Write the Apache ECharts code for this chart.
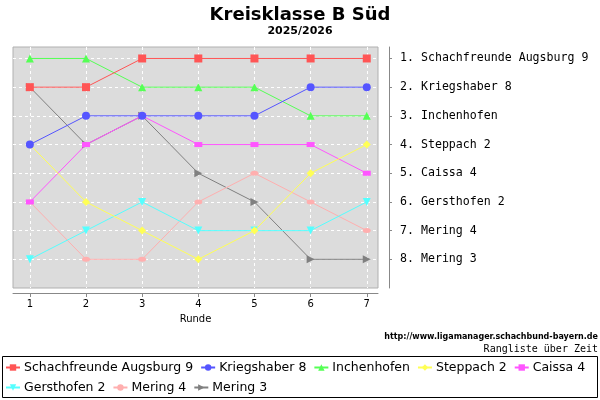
<!DOCTYPE html>
<html>
<head>
<meta charset="utf-8">
<script src="https://cdn.jsdelivr.net/npm/echarts@6/dist/echarts.min.js"></script>
<style>
  html, body { margin: 0; padding: 0; background: #fff; }
  #chart-container { width: 600px; height: 400px; }
</style>
</head>
<body>
<div id="chart-container"></div>
<script>
var dom = document.getElementById('chart-container');
var myChart = echarts.init(dom, null, { renderer: 'canvas' });

// rounds and team ranks per round
var rounds = [1, 2, 3, 4, 5, 6, 7];
var ranks = [1, 2, 3, 4, 5, 6, 7, 8];
var teams = ['Schachfreunde Augsburg 9', 'Kriegshaber 8', 'Inchenhofen', 'Steppach 2',
             'Caissa 4', 'Gersthofen 2', 'Mering 4', 'Mering 3'];
var augsburg9   = [2, 2, 1, 1, 1, 1, 1];
var kriegshaber8 = [4, 3, 3, 3, 3, 2, 2];
var inchenhofen = [1, 1, 2, 2, 2, 3, 3];
var steppach2   = [4, 6, 7, 8, 7, 5, 4];
var caissa4     = [6, 4, 3, 4, 4, 4, 5];
var gersthofen2 = [8, 7, 6, 7, 7, 7, 6];
var mering4     = [6, 8, 8, 6, 5, 6, 7];
var mering3     = [2, 4, 3, 5, 6, 8, 8];
var allRanks = [augsburg9, kriegshaber8, inchenhofen, steppach2, caissa4, gersthofen2, mering4, mering3];

var colors = ['#ff5555', '#5555ff', '#55ff55', '#ffff55', '#ff55ff', '#55ffff', '#ffafaf', '#808080'];
var symbols = ['rect', 'circle', 'triangle', 'diamond', 'rect', 'triangle', 'circle', 'triangle'];
var symSizes = [8, 8, 8, 8, [8, 5], 8, [8, 5], 8];
var symRot = [0, 0, 0, 0, 0, 180, 0, -90];

// first team drawn on top, like the original
var series = teams.map(function (name, i) {
    return {
        name: name,
        type: 'line',
        z: 2 + teams.length - i,
        data: rounds.map(function (r, j) { return [r, allRanks[i][j]]; }),
        symbol: symbols[i],
        symbolSize: symSizes[i],
        symbolRotate: symRot[i],
        showAllSymbol: true,
        color: colors[i],
        lineStyle: { width: 1 },
        itemStyle: { color: colors[i] },
        animation: false
    };
});

var option = {
    backgroundColor: '#ffffff',
    textStyle: { fontFamily: 'DejaVu Sans' },
    title: {
        text: 'Kreisklasse B Süd',
        subtext: '2025/2026',
        left: 'center',
        top: 1,
        itemGap: 2,
        textStyle: { fontSize: 18, fontWeight: 'bold', color: '#000', fontFamily: 'DejaVu Sans' },
        subtextStyle: { fontSize: 11, fontWeight: 'bold', color: '#000', fontFamily: 'DejaVu Sans' }
    },
    grid: {
        left: 13, right: 222, top: 47, bottom: 112,
        show: true,
        backgroundColor: '#dcdcdc',
        borderColor: '#b0b0b0',
        borderWidth: 1
    },
    xAxis: {
        type: 'value',
        min: 0.7,
        max: 7.2,
        offset: 5,
        name: 'Runde',
        nameLocation: 'middle',
        nameGap: 21,
        nameTextStyle: { fontSize: 10, color: '#000' },
        axisLine: { show: true, lineStyle: { color: '#888' } },
        axisTick: { show: true, length: 4, customValues: rounds, lineStyle: { color: '#888' } },
        axisLabel: { customValues: rounds, fontSize: 10, color: '#000', margin: 6 },
        splitLine: { show: true, lineStyle: { color: '#ffffff', type: [3, 3], width: 1 } }
    },
    yAxis: {
        type: 'value',
        inverse: true,
        min: 0.6,
        max: 9,
        position: 'right',
        offset: 11,
        axisLine: { show: true, lineStyle: { color: '#888' } },
        axisTick: { show: true, length: 3, customValues: ranks, lineStyle: { color: '#888' } },
        axisLabel: {
            customValues: ranks,
            margin: 11,
            fontFamily: 'DejaVu Sans Mono',
            fontSize: 11.6,
            color: '#000',
            formatter: function (v) { return v + '. ' + teams[v - 1]; }
        },
        splitLine: { show: true, lineStyle: { color: '#ffffff', type: [3, 3], width: 1 } }
    },
    legend: {
        left: 5,
        top: 361,
        width: 590,
        itemGap: 7,
        itemWidth: 14,
        itemHeight: 8,
        padding: [0, 0, 0, 0],
        textStyle: { fontSize: 12.5, color: '#000', padding: [0, 0, 0, -1] },
        data: teams
    },
    graphic: [
        {
            type: 'rect',
            shape: { x: 2.5, y: 356.5, width: 595, height: 41 },
            style: { fill: null, stroke: '#000', lineWidth: 1 },
            silent: true
        },
        {
            type: 'text',
            right: 2,
            top: 333,
            style: { text: 'http://www.ligamanager.schachbund-bayern.de', font: 'bold 8px DejaVu Sans', fill: '#000' }
        },
        {
            type: 'text',
            right: 2,
            top: 344,
            style: { text: 'Rangliste über Zeit', font: '10px DejaVu Sans Mono', fill: '#000' }
        }
    ],
    series: series
};

myChart.setOption(option);
window.addEventListener('resize', myChart.resize);
</script>
</body>
</html>
